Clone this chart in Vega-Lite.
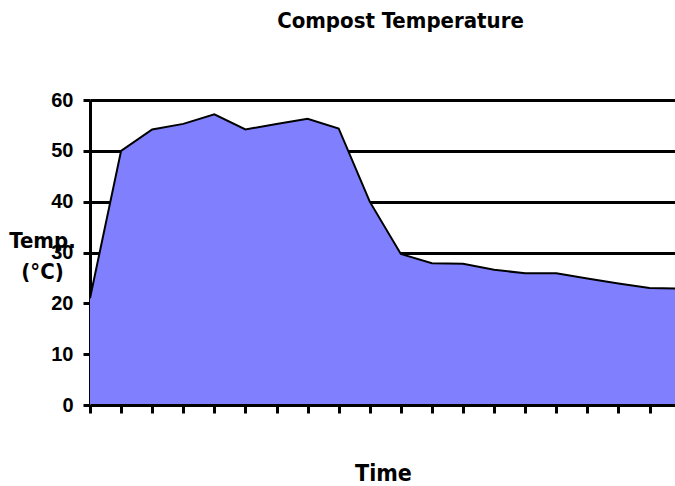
{
  "$schema": "https://vega.github.io/schema/vega-lite/v6.json",
  "autosize": {"type": "none"},
  "padding": {"left": 90, "top": 100, "right": 0, "bottom": 81},
  "width": 585,
  "height": 305,
  "background": "white",
  "title": {
    "text": "Compost Temperature",
    "font": "DejaVu Sans Condensed",
    "fontSize": 22,
    "fontWeight": "bold",
    "color": "black",
    "anchor": "middle",
    "dx": 18,
    "baseline": "alphabetic",
    "offset": 40
  },
  "config": {"view": {"stroke": null}},
  "data": {
    "values": [
      {"t": 0, "temp": 21},
      {"t": 1, "temp": 50},
      {"t": 2, "temp": 54.2},
      {"t": 3, "temp": 55.3},
      {"t": 4, "temp": 57.2},
      {"t": 5, "temp": 54.2},
      {"t": 6, "temp": 55.3},
      {"t": 7, "temp": 56.3},
      {"t": 8, "temp": 54.4},
      {"t": 9, "temp": 40},
      {"t": 10, "temp": 29.7},
      {"t": 11, "temp": 27.9},
      {"t": 12, "temp": 27.8},
      {"t": 13, "temp": 26.6},
      {"t": 14, "temp": 25.9},
      {"t": 15, "temp": 25.9},
      {"t": 16, "temp": 24.9},
      {"t": 17, "temp": 23.9},
      {"t": 18, "temp": 23},
      {"t": 19, "temp": 22.9}
    ]
  },
  "mark": {
    "type": "area",
    "color": "#8080FF",
    "opacity": 1,
    "clip": true,
    "line": {"color": "black", "strokeWidth": 2}
  },
  "encoding": {
    "x": {
      "field": "t",
      "type": "quantitative",
      "scale": {"domain": [0, 18.82], "nice": false, "zero": false},
      "axis": {
        "title": "Time",
        "titleFont": "DejaVu Sans Condensed",
        "titleFontSize": 23,
        "titleFontWeight": "bold",
        "titleColor": "black",
        "titlePadding": 48,
        "titleX": 293,
        "labels": false,
        "grid": false,
        "values": [0,1,2,3,4,5,6,7,8,9,10,11,12,13,14,15,16,17,18],
        "domainColor": "black",
        "domainWidth": 3,
        "tickColor": "black",
        "tickWidth": 3,
        "tickSize": 8,
        "zindex": 1
      }
    },
    "y": {
      "field": "temp",
      "type": "quantitative",
      "scale": {"domain": [0, 60], "nice": false},
      "axis": {
        "title": ["Temp.", "(°C)"],
        "titleFont": "DejaVu Sans Condensed",
        "titleFontSize": 22,
        "titleFontWeight": "bold",
        "titleColor": "black",
        "titleAngle": 0,
        "titleAlign": "center",
        "titleBaseline": "alphabetic",
        "titleX": -48,
        "titleY": 147,
        "titleLineHeight": 31,
        "values": [0, 10, 20, 30, 40, 50, 60],
        "labelFont": "Liberation Sans",
        "labelFontSize": 20,
        "labelFontWeight": "bold",
        "labelColor": "black",
        "labelPadding": 10,
        "grid": true,
        "gridColor": "black",
        "gridWidth": 3,
        "gridOpacity": 1,
        "domainColor": "black",
        "domainWidth": 3,
        "tickColor": "black",
        "tickWidth": 3,
        "tickSize": 7,
        "zindex": 0
      }
    }
  }
}
